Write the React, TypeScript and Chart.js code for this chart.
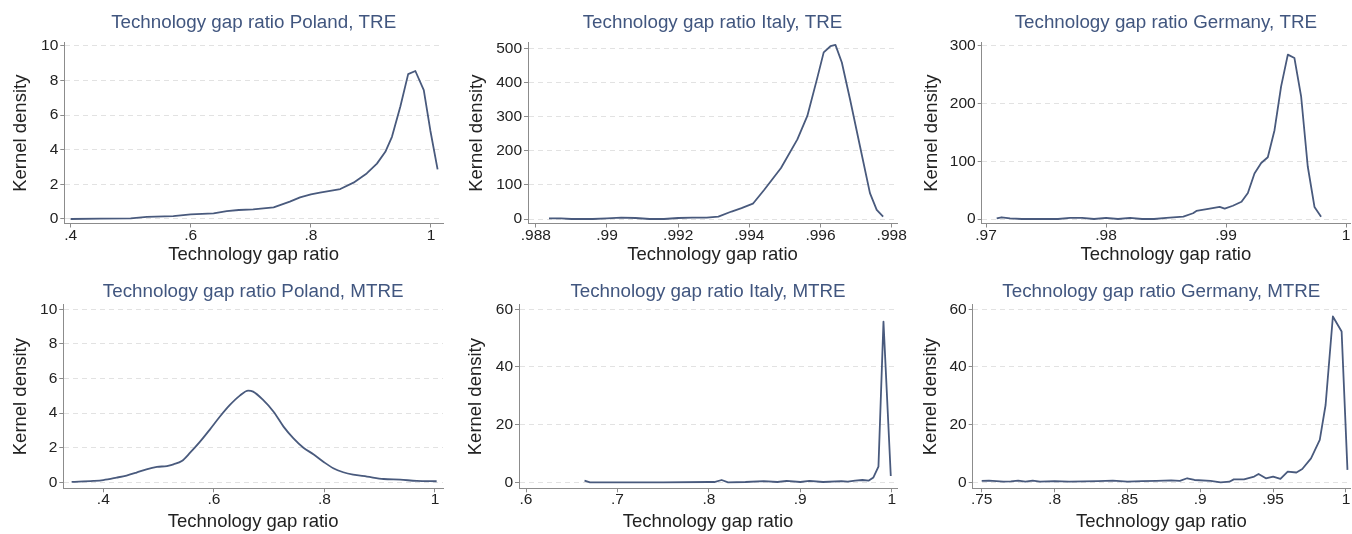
import React, { useEffect, useRef } from "react";
import { Chart, registerables } from "chart.js";

Chart.register(...registerables);

const FONT = "'Liberation Sans', Arial, Helvetica, sans-serif";
const LINE_COLOR = "#495a7d";
const TITLE_COLOR = "#41567f";
const TEXT_COLOR = "#222222";
const AXIS_COLOR = "#8c8c8c";
const GRID_COLOR = "#e2e2e2";

const X_TITLE = "Technology gap ratio";
const Y_TITLE = "Kernel density";

// ---- Poland, TRE ----
const polandTreX = [0.40, 0.45, 0.50, 0.527, 0.571, 0.60, 0.638, 0.66, 0.68, 0.704, 0.738, 0.765, 0.782, 0.80, 0.815, 0.849, 0.871, 0.893, 0.91, 0.924, 0.935, 0.949, 0.962, 0.974, 0.988, 0.999, 1.011];
const polandTreY = [0.0, 0.02, 0.04, 0.12, 0.17, 0.27, 0.33, 0.45, 0.52, 0.56, 0.67, 1.0, 1.25, 1.42, 1.52, 1.73, 2.1, 2.63, 3.2, 3.88, 4.75, 6.5, 8.37, 8.55, 7.45, 5.1, 2.87];
const polandTreXTicks = [0.4, 0.6, 0.8, 1];
const polandTreXLabels = [".4", ".6", ".8", "1"];
const polandTreYTicks = [0, 2, 4, 6, 8, 10];
const polandTreYLabels = ["0", "2", "4", "6", "8", "10"];

// ---- Italy, TRE ----
const italyTreX = [0.98837, 0.9887, 0.989, 0.9893, 0.9896, 0.99, 0.9904, 0.9908, 0.9912, 0.9916, 0.992, 0.9924, 0.9928, 0.99313, 0.9935, 0.99378, 0.9941, 0.99442, 0.99489, 0.99535, 0.99563, 0.99591, 0.99609, 0.99628, 0.99642, 0.9966, 0.99683, 0.99711, 0.99739, 0.99758, 0.99776];
const italyTreY = [2, 2, 0, 0, 0, 2, 4, 3, 0, 0, 3, 4, 4, 7, 22, 32, 45, 86, 150, 234, 303, 415, 490, 508, 512, 460, 352, 214, 76, 27, 7];
const italyTreXTicks = [0.988, 0.99, 0.992, 0.994, 0.996, 0.998];
const italyTreXLabels = [".988", ".99", ".992", ".994", ".996", ".998"];
const italyTreYTicks = [0, 100, 200, 300, 400, 500];
const italyTreYLabels = ["0", "100", "200", "300", "400", "500"];

// ---- Germany, TRE ----
const germanyTreX = [0.97089, 0.9713, 0.972, 0.973, 0.9745, 0.976, 0.977, 0.978, 0.979, 0.98, 0.981, 0.982, 0.983, 0.984, 0.98503, 0.98644, 0.98725, 0.98753, 0.98864, 0.98947, 0.98989, 0.99057, 0.99129, 0.99182, 0.99237, 0.99293, 0.99348, 0.99404, 0.99459, 0.99515, 0.9957, 0.99626, 0.99681, 0.99737, 0.99792];
const germanyTreY = [1, 3, 1, 0, 0, 0, 2, 2, 0, 2, 0, 2, 0, 0, 2, 4, 10, 14, 18, 21, 18, 23, 30, 45, 79, 97, 107, 154, 230, 285, 279, 212, 91, 21, 4];
const germanyTreXTicks = [0.97, 0.98, 0.99, 1];
const germanyTreXLabels = [".97", ".98", ".99", "1"];
const germanyTreYTicks = [0, 100, 200, 300];
const germanyTreYLabels = ["0", "100", "200", "300"];

// ---- Poland, MTRE ----
const polandMtreX = [0.3427, 0.382, 0.40, 0.424, 0.442, 0.46, 0.478, 0.497, 0.515, 0.527, 0.542, 0.557, 0.575, 0.593, 0.611, 0.629, 0.647, 0.662, 0.671, 0.689, 0.708, 0.726, 0.744, 0.762, 0.78, 0.798, 0.816, 0.834, 0.852, 0.877, 0.907, 0.937, 0.967, 1.003];
const polandMtreY = [0.02, 0.08, 0.13, 0.27, 0.39, 0.56, 0.75, 0.89, 0.94, 1.04, 1.23, 1.71, 2.35, 3.06, 3.8, 4.47, 5.01, 5.3, 5.24, 4.76, 4.08, 3.22, 2.54, 2.0, 1.62, 1.19, 0.81, 0.58, 0.44, 0.33, 0.19, 0.15, 0.08, 0.06];
const polandMtreXTicks = [0.4, 0.6, 0.8, 1];
const polandMtreXLabels = [".4", ".6", ".8", "1"];
const polandMtreYTicks = [0, 2, 4, 6, 8, 10];
const polandMtreYLabels = ["0", "2", "4", "6", "8", "10"];

// ---- Italy, MTRE ----
const italyMtreX = [0.664, 0.67, 0.70, 0.75, 0.80, 0.806, 0.814, 0.821, 0.84, 0.86, 0.875, 0.885, 0.90, 0.91, 0.925, 0.945, 0.952, 0.96, 0.968, 0.975, 0.98, 0.9855, 0.991, 0.999];
const italyMtreY = [0.6, 0, 0, 0, 0.1, 0.1, 0.8, 0, 0.1, 0.4, 0.1, 0.5, 0.1, 0.5, 0.1, 0.4, 0.2, 0.6, 0.8, 0.6, 1.7, 5.4, 55.7, 2.2];
const italyMtreXTicks = [0.6, 0.7, 0.8, 0.9, 1];
const italyMtreXLabels = [".6", ".7", ".8", ".9", "1"];
const italyMtreYTicks = [0, 20, 40, 60];
const italyMtreYLabels = ["0", "20", "40", "60"];

// ---- Germany, MTRE ----
const germanyMtreX = [0.75, 0.755, 0.76, 0.765, 0.77, 0.775, 0.78, 0.785, 0.79, 0.80, 0.81, 0.82, 0.83, 0.84, 0.85, 0.86, 0.87, 0.88, 0.886, 0.891, 0.896, 0.907, 0.914, 0.92, 0.923, 0.93, 0.937, 0.94, 0.945, 0.95, 0.955, 0.96, 0.966, 0.97, 0.976, 0.982, 0.986, 0.991, 0.997, 1.001];
const germanyMtreY = [0.5, 0.6, 0.4, 0.2, 0.3, 0.6, 0.2, 0.6, 0.2, 0.4, 0.2, 0.3, 0.4, 0.6, 0.2, 0.4, 0.5, 0.7, 0.5, 1.4, 0.8, 0.5, 0, 0.2, 1.0, 1.0, 2.0, 2.9, 1.4, 2.0, 1.2, 3.7, 3.4, 4.6, 8.3, 14.7, 26.8, 57.5, 52.3, 4.3];
const germanyMtreXTicks = [0.75, 0.8, 0.85, 0.9, 0.95, 1];
const germanyMtreXLabels = [".75", ".8", ".85", ".9", ".95", "1"];
const germanyMtreYTicks = [0, 20, 40, 60];
const germanyMtreYLabels = ["0", "20", "40", "60"];

type Panel = {
  title: string;
  xs: number[];
  ys: number[];
  xTicks: number[];
  xLabels: string[];
  yTicks: number[];
  yLabels: string[];
  xMin: number;
  xMax: number;
  yMin: number;
  yMax: number;
  smooth: boolean;
  left: number;
  top: number;
  width: number;
  height: number;
  yAxisWidth: number;
  xAxisHeight: number;
  titlePadTop: number;
  titlePadBottom: number;
  padRight: number;
};

const ROW1 = { top: 0, height: 267, xAxisHeight: 43.5, titlePadTop: 11.8, titlePadBottom: 8.6 };
const ROW2 = { top: 270, height: 264, xAxisHeight: 45.7, titlePadTop: 10.4, titlePadBottom: 2.0 };

const panels: Panel[] = [
  {
    title: "Technology gap ratio Poland, TRE",
    xs: polandTreX, ys: polandTreY,
    xTicks: polandTreXTicks, xLabels: polandTreXLabels,
    yTicks: polandTreYTicks, yLabels: polandTreYLabels,
    xMin: 0.3895, xMax: 1.02, yMin: -0.26, yMax: 10.17, smooth: false,
    left: 10, width: 447, yAxisWidth: 54.3, padRight: 14, ...ROW1,
  },
  {
    title: "Technology gap ratio Italy, TRE",
    xs: italyTreX, ys: italyTreY,
    xTicks: italyTreXTicks, xLabels: italyTreXLabels,
    yTicks: italyTreYTicks, yLabels: italyTreYLabels,
    xMin: 0.98778, xMax: 0.99815, yMin: -13.2, yMax: 517.6, smooth: false,
    left: 466, width: 445, yAxisWidth: 62, padRight: 14, ...ROW1,
  },
  {
    title: "Technology gap ratio Germany, TRE",
    xs: germanyTreX, ys: germanyTreY,
    xTicks: germanyTreXTicks, xLabels: germanyTreXLabels,
    yTicks: germanyTreYTicks, yLabels: germanyTreYLabels,
    xMin: 0.96964, xMax: 1.00033, yMin: -7.8, yMax: 305.2, smooth: false,
    left: 921, width: 431, yAxisWidth: 60.7, padRight: 2, ...ROW1,
  },
  {
    title: "Technology gap ratio Poland, MTRE",
    xs: polandMtreX, ys: polandMtreY,
    xTicks: polandMtreXTicks, xLabels: polandMtreXLabels,
    yTicks: polandMtreYTicks, yLabels: polandMtreYLabels,
    xMin: 0.3276, xMax: 1.0145, yMin: -0.347, yMax: 10.25, smooth: true,
    left: 10, width: 447, yAxisWidth: 53.3, padRight: 14, ...ROW2,
  },
  {
    title: "Technology gap ratio Italy, MTRE",
    xs: italyMtreX, ys: italyMtreY,
    xTicks: italyMtreXTicks, xLabels: italyMtreXLabels,
    yTicks: italyMtreYTicks, yLabels: italyMtreYLabels,
    xMin: 0.59234, xMax: 1.0058, yMin: -2.08, yMax: 61.49, smooth: false,
    left: 465, width: 446, yAxisWidth: 54, padRight: 14, ...ROW2,
  },
  {
    title: "Technology gap ratio Germany, MTRE",
    xs: germanyMtreX, ys: germanyMtreY,
    xTicks: germanyMtreXTicks, xLabels: germanyMtreXLabels,
    yTicks: germanyMtreYTicks, yLabels: germanyMtreYLabels,
    xMin: 0.74382, xMax: 1.00275, yMin: -2.08, yMax: 61.49, smooth: false,
    left: 920, width: 432, yAxisWidth: 52.7, padRight: 2, ...ROW2,
  },
];

const tickFont = { family: FONT, size: 15.5, lineHeight: 1 };
const axisTitleFont = { family: FONT, size: 18.5, lineHeight: 1.2 };

function ChartPanel({ p }: { p: Panel }) {
  const ref = useRef<HTMLCanvasElement>(null);

  useEffect(() => {
    const canvas = ref.current;
    if (!canvas) return;
    const points = p.xs.map((x, i) => ({ x, y: p.ys[i] }));
    const dataset: any = {
      data: points,
      borderColor: LINE_COLOR,
      borderWidth: 1.8,
      pointRadius: 0,
      fill: false,
      borderJoinStyle: "round",
    };
    if (p.smooth) dataset.cubicInterpolationMode = "monotone";
    else dataset.tension = 0;

    const chart = new Chart(canvas, {
      type: "line",
      data: { datasets: [dataset] },
      options: {
        responsive: false,
        animation: false,
        devicePixelRatio: 1,
        layout: { padding: { left: 0, right: p.padRight, top: 0, bottom: 0 } },
        plugins: {
          legend: { display: false },
          tooltip: { enabled: false },
          title: {
            display: true,
            text: p.title,
            color: TITLE_COLOR,
            fullSize: false,
            align: "center",
            font: { family: FONT, size: 18.8, weight: "normal", lineHeight: 1.2 },
            padding: { top: p.titlePadTop, bottom: p.titlePadBottom },
          },
        },
        scales: {
          x: {
            type: "linear",
            min: p.xMin,
            max: p.xMax,
            afterBuildTicks: (s: any) => {
              s.ticks = p.xTicks.map((v) => ({ value: v }));
            },
            afterFit: (s: any) => {
              s.height = p.xAxisHeight;
            },
            ticks: {
              autoSkip: false,
              maxRotation: 0,
              minRotation: 0,
              padding: 0,
              color: TEXT_COLOR,
              font: tickFont,
              callback: (_v: any, i: number) => p.xLabels[i],
            },
            grid: {
              drawOnChartArea: false,
              drawTicks: true,
              tickLength: 4,
              color: AXIS_COLOR,
              tickColor: AXIS_COLOR,
              tickBorderDash: [],
            },
            border: { display: true, color: AXIS_COLOR, width: 1 },
            title: {
              display: true,
              text: X_TITLE,
              color: TEXT_COLOR,
              font: axisTitleFont,
              padding: { top: 0, bottom: 0.5 },
            },
          },
          y: {
            type: "linear",
            min: p.yMin,
            max: p.yMax,
            afterBuildTicks: (s: any) => {
              s.ticks = p.yTicks.map((v) => ({ value: v }));
            },
            afterFit: (s: any) => {
              s.width = p.yAxisWidth;
            },
            ticks: {
              autoSkip: false,
              padding: 2,
              color: TEXT_COLOR,
              font: tickFont,
              callback: (_v: any, i: number) => p.yLabels[i],
            },
            grid: {
              drawOnChartArea: true,
              drawTicks: true,
              tickLength: 4,
              color: GRID_COLOR,
              tickColor: AXIS_COLOR,
              tickBorderDash: [],
            },
            border: { display: true, color: AXIS_COLOR, width: 1, dash: [5, 4] },
            title: {
              display: true,
              text: Y_TITLE,
              color: TEXT_COLOR,
              font: axisTitleFont,
              padding: { top: 0, bottom: 0 },
            },
          },
        },
      },
    } as any);
    return () => chart.destroy();
  }, [p]);

  return (
    <canvas
      ref={ref}
      width={p.width}
      height={p.height}
      style={{ position: "absolute", left: p.left, top: p.top, width: p.width, height: p.height }}
    />
  );
}

export default function App() {
  return (
    <div
      style={{
        position: "fixed",
        left: 0,
        top: 0,
        width: 1352,
        height: 534,
        overflow: "hidden",
        background: "#ffffff",
      }}
    >
      {panels.map((p, i) => (
        <ChartPanel key={i} p={p} />
      ))}
    </div>
  );
}
